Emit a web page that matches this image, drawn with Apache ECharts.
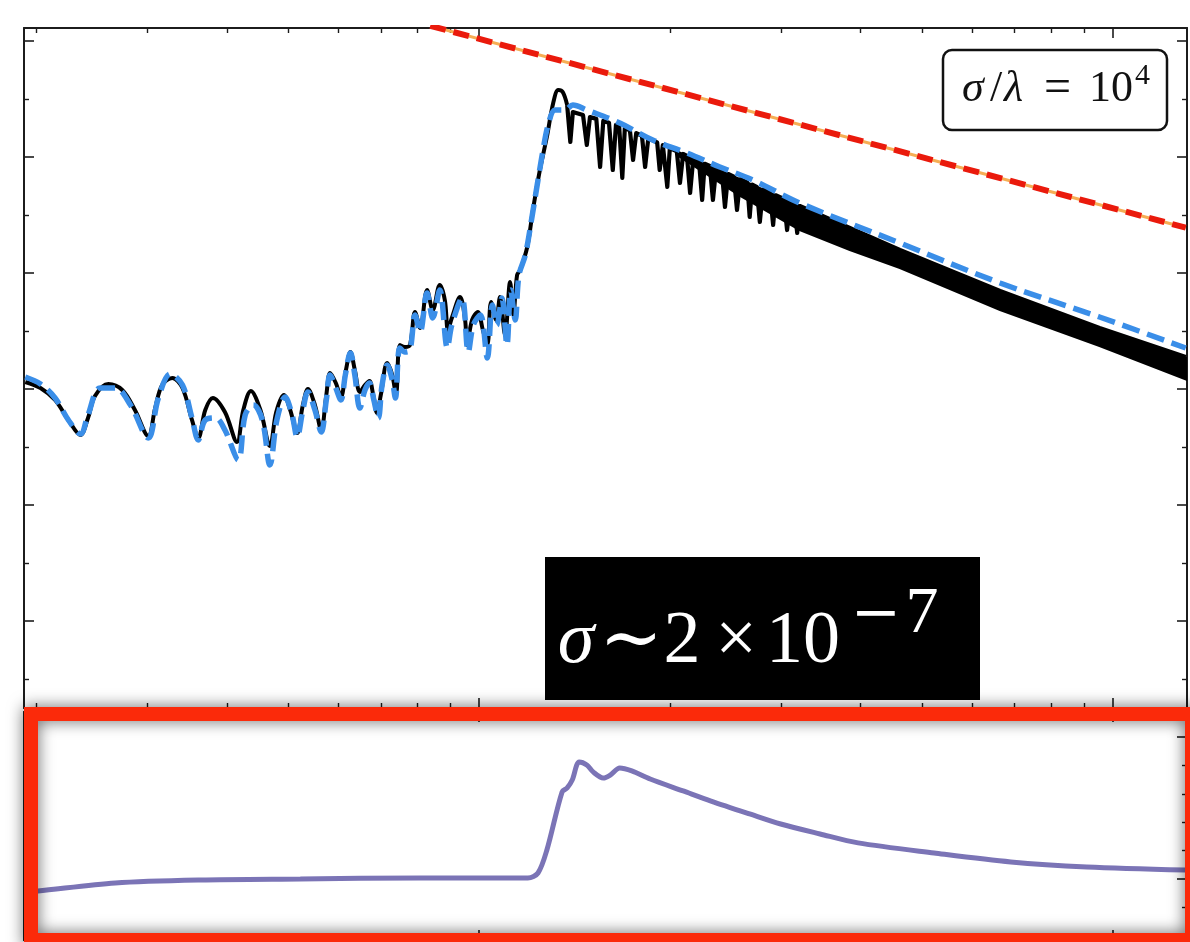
<!DOCTYPE html>
<html>
<head>
<meta charset="utf-8">
<script src="https://cdn.jsdelivr.net/npm/echarts@6/dist/echarts.min.js"></script>
<style>
  html, body { margin: 0; padding: 0; background: #ffffff; }
  #chart { width: 1190px; height: 942px; }
</style>
</head>
<body>
<div id="chart"></div>
<script>
// Spectrum panel: both axes are logarithmic, values are stored as log10.
// Measured spectrum (black).
const blackLogX = [-0.716,-0.692,-0.669,-0.648,-0.629,-0.617,-0.606,-0.585,-0.563,-0.543,-0.522,-0.511,-0.500,-0.484,-0.468,-0.453,-0.443,-0.432,-0.420,-0.401,-0.382,-0.372,-0.360,-0.345,-0.330,-0.320,-0.308,-0.298,-0.287,-0.278,-0.270,-0.259,-0.249,-0.241,-0.235,-0.226,-0.218,-0.210,-0.203,-0.196,-0.188,-0.180,-0.173,-0.167,-0.161,-0.155,-0.145,-0.137,-0.131,-0.125,-0.117,-0.109,-0.101,-0.093,-0.082,-0.073,-0.062,-0.054,-0.049,-0.043,-0.030,-0.022,-0.019,-0.011,-0.002,0.006,0.013,0.019,0.027,0.033,0.041,0.049,0.054,0.060,0.065,0.076,0.085,0.096,0.107,0.117,0.125,0.132,0.139,
  0.144,0.148,0.164,0.170,0.175,0.185,0.191,0.196,0.205,0.211,0.216,0.221,0.226,0.230,0.238,0.243,0.248,0.257,0.262,0.267,0.281,0.285,0.290,0.293,0.297,0.301,0.312,0.317,0.322,0.328,0.333,0.338,0.347,0.352,0.356,0.364,0.369,0.374,0.383,0.388,0.393,0.402,0.407,0.412,0.423,0.427,0.431,0.438,0.443,0.448,0.459,0.464,0.468,0.481,0.486,0.491,0.497,0.502,0.506,
  0.585,0.664,0.822,0.979,1.115];
const blackLogY = [-9.879,-9.983,-10.190,-10.534,-10.793,-10.500,-10.121,-9.914,-10.017,-10.362,-10.810,-10.328,-9.931,-9.810,-9.983,-10.534,-10.845,-10.362,-10.155,-10.397,-10.914,-10.362,-10.034,-10.362,-10.983,-10.397,-10.103,-10.362,-10.759,-10.276,-10.000,-10.276,-10.707,-10.103,-9.724,-9.897,-10.138,-9.672,-9.362,-9.672,-10.052,-9.931,-9.862,-10.103,-10.414,-10.103,-9.552,-9.759,-10.103,-9.241,-9.276,-9.241,-8.672,-8.948,-8.293,-8.638,-8.207,-8.466,-8.983,-8.776,-8.414,-8.810,-9.241,-8.810,-8.672,-8.983,-9.241,-8.500,-8.810,-8.414,-9.069,-8.155,-8.724,-8.034,-7.948,-7.552,-6.914,-6.224,-5.655,-5.069,-4.845,-4.879,-5.103,
  -5.741,-5.224,-5.276,-5.793,-5.312,-5.343,-6.172,-5.379,-5.410,-6.224,-5.445,-5.460,-6.362,-5.503,-5.541,-6.052,-5.588,-5.634,-6.172,-5.679,-5.748,-6.224,-5.795,-5.810,-6.517,-5.848,-5.902,-6.448,-5.948,-5.979,-6.621,-6.024,-6.071,-6.741,-6.117,-6.155,-6.741,-6.202,-6.247,-6.862,-6.293,-6.340,-6.914,-6.384,-6.438,-7.034,-6.478,-6.516,-7.121,-6.562,-6.616,-7.172,-6.660,-6.722,-7.259,-6.769,-6.798,-7.310,-6.845,
  -7.224,-7.603,-8.310,-8.948,-9.448];
// Where the fringes of the black curve merge: upper edge, then lower edge back.
const bandLogX = [0.317,0.412,0.506,0.585,0.664,0.822,0.979,1.121,1.121,0.979,0.822,0.664,0.585,0.506,0.412,0.317];
const bandLogY = [-5.924,-6.384,-6.845,-7.224,-7.603,-8.310,-8.948,-9.483,-9.862,-9.259,-8.638,-7.914,-7.603,-7.259,-6.672,-6.000];

// Model spectrum (blue dashed).
const blueLogX = [-0.716,-0.692,-0.669,-0.648,-0.629,-0.617,-0.598,-0.574,-0.550,-0.522,-0.506,-0.487,-0.468,-0.453,-0.443,-0.432,-0.416,-0.401,-0.380,-0.369,-0.356,-0.342,-0.330,-0.319,-0.306,-0.295,-0.287,-0.278,-0.270,-0.259,-0.249,-0.241,-0.235,-0.226,-0.218,-0.211,-0.203,-0.196,-0.188,-0.180,-0.173,-0.166,-0.159,-0.153,-0.145,-0.137,-0.132,-0.125,-0.117,-0.109,-0.101,-0.093,-0.082,-0.073,-0.062,-0.050,-0.043,-0.027,-0.017,-0.009,0.002,0.013,0.021,0.028,0.036,0.044,0.050,0.057,0.063,0.073,0.084,0.093,0.101,0.109,0.120,0.136,0.148,0.170,0.222,0.274,0.328,0.380,0.432,0.506,0.664,0.822,0.979,1.115];
const blueLogY = [-9.793,-9.914,-10.155,-10.534,-10.776,-10.448,-9.983,-9.983,-10.276,-10.845,-10.155,-9.741,-9.931,-10.500,-10.879,-10.534,-10.500,-10.707,-11.224,-10.448,-10.276,-10.534,-11.310,-10.534,-10.138,-10.448,-10.828,-10.362,-10.052,-10.362,-10.741,-10.190,-9.759,-9.983,-10.190,-9.759,-9.379,-9.759,-10.328,-10.017,-9.897,-10.190,-10.500,-9.931,-9.586,-9.845,-10.155,-9.293,-9.362,-9.328,-8.724,-9.017,-8.345,-8.776,-8.293,-9.293,-8.897,-8.431,-9.362,-8.897,-8.724,-9.466,-8.552,-8.897,-8.431,-9.241,-8.293,-8.810,-8.034,-7.690,-7.000,-6.397,-5.879,-5.448,-5.190,-5.190,-5.103,-5.190,-5.414,-5.707,-5.931,-6.172,-6.397,-6.793,-7.483,-8.172,-8.759,-9.293];

// Power-law reference (red dashed over a thin orange line).
const powerLawLogX = [-0.077, 1.115];
const powerLawLogY = [-3.738, -7.219];

// Lower panel: ratio curve (log10 x, linear y).
const ratioLogX = [-0.716,-0.696,-0.574,-0.440,-0.282,-0.093,0.077,0.093,0.107,0.131,0.139,0.147,0.158,0.170,0.180,0.196,0.207,0.222,0.241,0.270,0.322,0.366,0.427,0.476,0.538,0.598,0.718,0.839,0.959,1.115];
const ratioValues = [-0.092,-0.085,-0.028,-0.007,0.000,0.007,0.007,0.042,0.204,0.613,0.641,0.697,0.824,0.803,0.754,0.711,0.732,0.782,0.761,0.704,0.620,0.549,0.458,0.387,0.317,0.254,0.183,0.120,0.085,0.063];

// Tick marks (x ticks given as plain values, placed on the log10 axis).
const xMajorTicks = [1, 10];
const xMinorTicks = [0.2, 0.3, 0.4, 0.5, 0.6, 0.7, 0.8, 0.9, 2, 3, 4, 5, 6, 7, 8, 9];
const yMajorTicks = [-14, -12, -10, -8, -6, -4];
const yMinorTicks = [-15, -13, -11, -9, -7, -5];
const ratioMajorTicks = [0, 1];
const ratioMinorTicks = [-0.4, -0.2, 0.2, 0.4, 0.6, 0.8];

const X_RANGE = [-0.718, 1.117];
const SPEC_RANGE = [-15.5, -3.776];
const RATIO_RANGE = [-0.43, 1.176];

const AXIS_COLOR = '#1c1c1c';
const SERIF = "'Liberation Serif', 'DejaVu Serif', serif";

const zip = (xs, ys) => xs.map((x, i) => [x, ys[i]]);
const log10All = (vals) => vals.map((v) => Math.log10(v));

// One side of a frame: a long-tick axis carrying the line, plus a short-tick axis on top of it.
function frameSide(gridIndex, position, range, major, minor) {
  const base = {
    type: 'value', gridIndex, position, min: range[0], max: range[1],
    splitLine: { show: false }, axisLabel: { show: false },
    axisPointer: { show: false }, silent: true
  };
  return [
    Object.assign({}, base, {
      axisLine: { show: true, onZero: false, lineStyle: { color: AXIS_COLOR, width: 2 } },
      axisTick: { show: true, inside: true, length: 10, customValues: major,
                  lineStyle: { color: AXIS_COLOR, width: 1.6 } }
    }),
    Object.assign({}, base, {
      axisLine: { show: false, onZero: false },
      axisTick: { show: true, inside: true, length: 5, customValues: minor,
                  lineStyle: { color: AXIS_COLOR, width: 1.4 } }
    })
  ];
}

const xMajor = log10All(xMajorTicks);
const xMinor = log10All(xMinorTicks);

const xAxes = [].concat(
  frameSide(0, 'bottom', X_RANGE, xMajor, xMinor),   // 0,1
  frameSide(0, 'top', X_RANGE, xMajor, xMinor),      // 2,3
  frameSide(1, 'bottom', X_RANGE, xMajor, xMinor),   // 4,5
  frameSide(1, 'top', X_RANGE, xMajor, xMinor)       // 6,7
);
const yAxes = [].concat(
  frameSide(0, 'left', SPEC_RANGE, yMajorTicks, yMinorTicks),        // 0,1
  frameSide(0, 'right', SPEC_RANGE, yMajorTicks, yMinorTicks),       // 2,3
  frameSide(1, 'left', RATIO_RANGE, ratioMajorTicks, ratioMinorTicks),  // 4,5
  frameSide(1, 'right', RATIO_RANGE, ratioMajorTicks, ratioMinorTicks)  // 6,7
);

const blackPairs = zip(blackLogX, blackLogY);
const specLine = (extra) => Object.assign({
  type: 'line', xAxisIndex: 0, yAxisIndex: 0, symbol: 'none', showSymbol: false,
  silent: true, animation: false, clip: true
}, extra);

const series = [
  // merged fringe band of the measured spectrum
  {
    type: 'custom', xAxisIndex: 0, yAxisIndex: 0, clip: true, silent: true, z: 2,
    data: zip(bandLogX, bandLogY),
    renderItem(params, api) {
      if (params.dataIndex !== 0) return null;
      const pts = bandLogX.map((x, i) => api.coord([x, bandLogY[i]]));
      return { type: 'polygon', shape: { points: pts },
               style: { fill: '#000000', stroke: '#000000', lineWidth: 2 } };
    }
  },
  specLine({ data: blackPairs.slice(0, 83), smooth: 0.35, z: 3,
             lineStyle: { color: '#000000', width: 4 } }),
  specLine({ data: blackPairs.slice(82), smooth: false, z: 3,
             lineStyle: { color: '#000000', width: 4.2, join: 'round' } }),
  specLine({ data: zip(blueLogX, blueLogY), smooth: 0.35, z: 4,
             lineStyle: { color: '#3a8ee8', width: 5.5, type: [18, 8] } }),
  specLine({ data: zip(powerLawLogX, powerLawLogY), z: 5,
             lineStyle: { color: '#f6ae55', width: 3 } }),
  specLine({ data: zip(powerLawLogX, powerLawLogY), z: 6,
             lineStyle: { color: '#ea1a0c', width: 6, type: [16, 8] } }),
  {
    type: 'line', xAxisIndex: 4, yAxisIndex: 4, symbol: 'none', showSymbol: false,
    silent: true, clip: true, z: 3, smooth: 0.3,
    data: zip(ratioLogX, ratioValues),
    lineStyle: { color: '#7b74b6', width: 5 }
  }
];

const glyph = (text, x, y, font, align) => ({
  type: 'text', z: 101,
  style: { x, y, text, font, fill: '#ffffff', align: align || 'center', verticalAlign: 'middle' }
});
const darkGlyph = (text, x, y, font) => ({
  type: 'text', z: 101,
  style: { x, y, text, font, fill: '#111111', align: 'left', verticalAlign: 'middle' }
});

const graphics = [
  // parameter box, upper right
  { type: 'rect', z: 100, shape: { x: 943, y: 50, width: 224, height: 80, r: 9 },
    style: { fill: '#ffffff', stroke: '#111111', lineWidth: 2.5 } },
  darkGlyph('σ', 962, 89, 'italic 44px ' + SERIF),
  darkGlyph('/', 990, 89, '44px ' + SERIF),
  darkGlyph('λ', 1004, 89, 'italic 44px ' + SERIF),
  darkGlyph('=', 1044, 89, '48px ' + SERIF),
  darkGlyph('10', 1089, 89, '44px ' + SERIF),
  darkGlyph('4', 1135, 76, '30px ' + SERIF),

  // amplitude label
  { type: 'rect', z: 100, shape: { x: 545, y: 557, width: 435, height: 143 },
    style: { fill: '#000000' } },
  glyph('σ', 576, 643, 'italic 74px ' + SERIF),
  glyph('∼', 631, 643, "76px 'DejaVu Serif', serif"),
  glyph('2', 682, 643, '74px ' + SERIF),
  glyph('×', 736, 643, '74px ' + SERIF),
  glyph('10', 803, 643, '74px ' + SERIF),
  glyph('−', 876, 616, "60px 'DejaVu Serif', serif"),
  glyph('7', 922, 615, '66px ' + SERIF),

  // highlight frame round the lower panel
  { type: 'rect', z: 120, shape: { x: 31, y: 714, width: 1161, height: 226 },
    style: { fill: 'none', stroke: '#fb2a0a', lineWidth: 14,
             shadowBlur: 16, shadowColor: 'rgba(0,0,0,0.6)' } }
];

const chart = echarts.init(document.getElementById('chart'), null, { renderer: 'canvas' });
chart.setOption({
  animation: false,
  backgroundColor: '#ffffff',
  grid: [
    { left: 24, top: 28, width: 1163, height: 680, containLabel: false },
    { left: 24, top: 712, width: 1163, height: 228, containLabel: false }
  ],
  xAxis: xAxes,
  yAxis: yAxes,
  series: series,
  graphic: graphics
});
</script>
</body>
</html>
